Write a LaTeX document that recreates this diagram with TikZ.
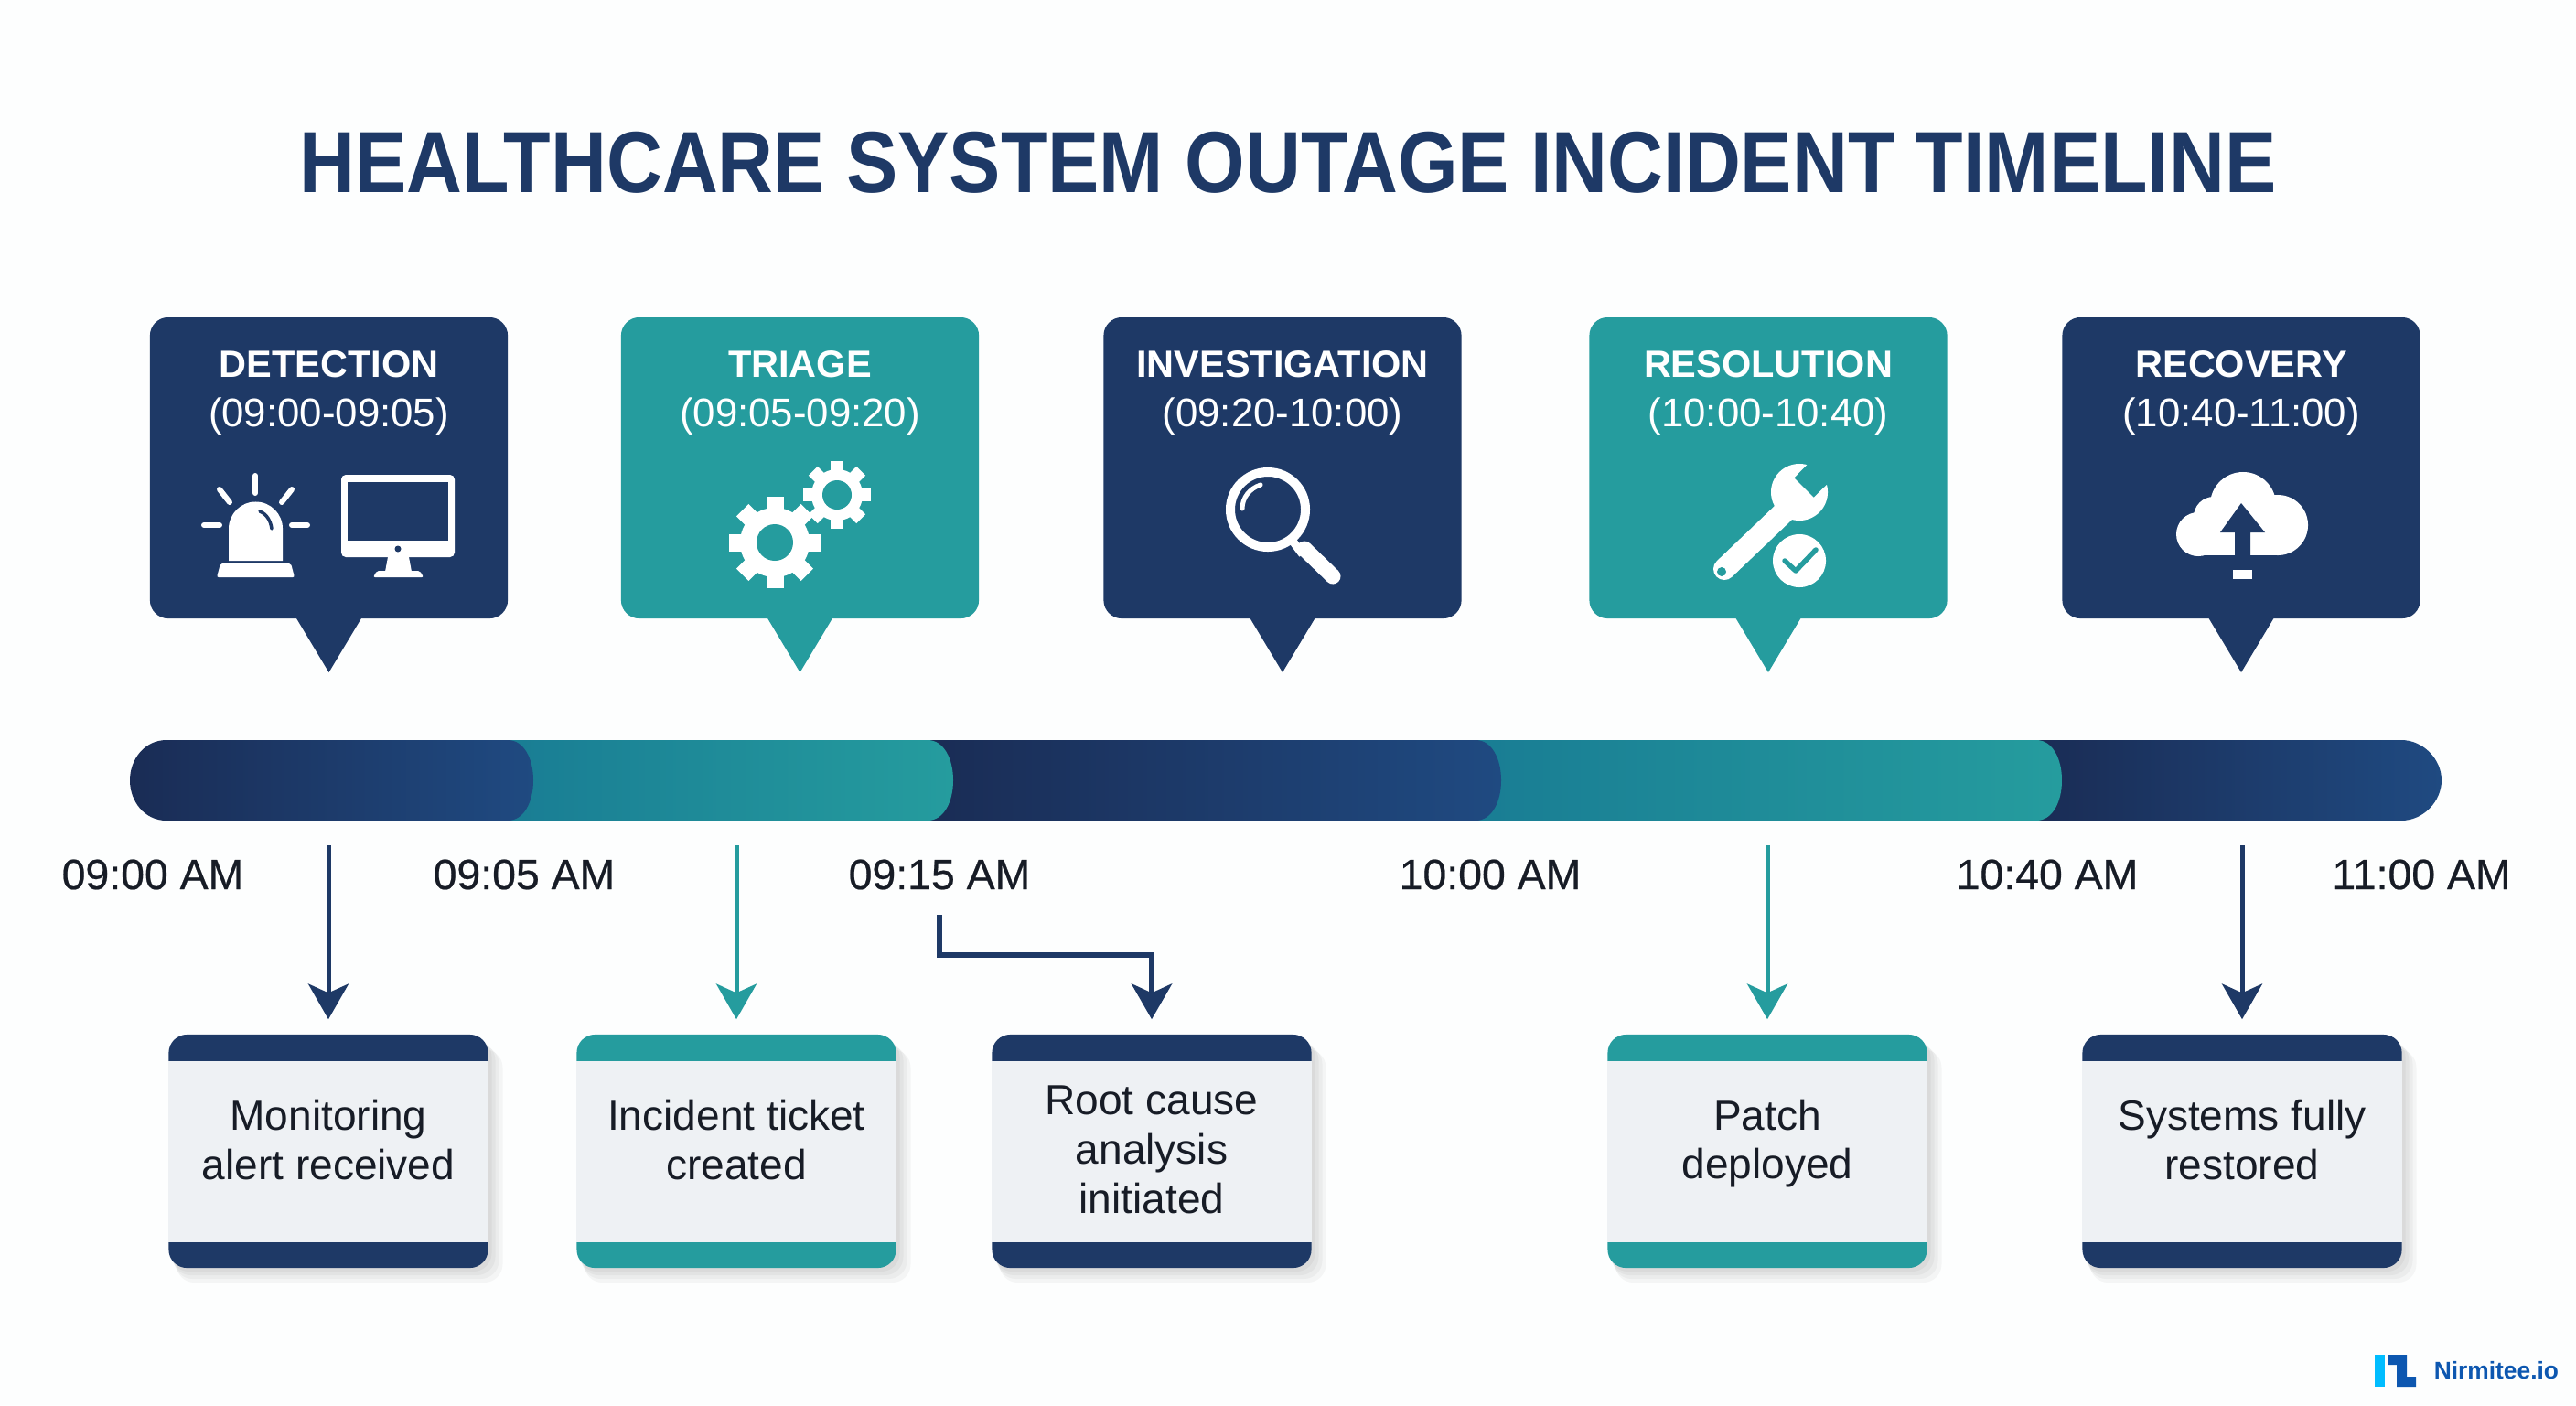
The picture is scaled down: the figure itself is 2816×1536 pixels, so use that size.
\documentclass[tikz,border=0pt]{standalone}
\usepackage{fontspec}
\usepackage{xcolor}
\usetikzlibrary{arrows.meta}
\setmainfont{Liberation Sans}
\newfontfamily\titlefont[FakeStretch=0.888]{Liberation Sans Bold}
\newfontfamily\labelfont[FakeBold=0.5]{Liberation Sans}
\definecolor{fundo} {rgb}{0.992,0.996,0.996}
\definecolor{navy} {rgb}{0.118,0.224,0.400}
\definecolor{navyesc} {rgb}{0.102,0.173,0.333}
\definecolor{navycla} {rgb}{0.122,0.290,0.506}
\definecolor{teal} {rgb}{0.145,0.612,0.620}
\definecolor{tealesc} {rgb}{0.098,0.490,0.580}
\definecolor{caixa} {rgb}{0.933,0.945,0.957}
\definecolor{texto} {rgb}{0.090,0.110,0.150}
\definecolor{logoazul} {rgb}{0.050,0.340,0.690}
\definecolor{logociano} {rgb}{0.000,0.740,1.000}
\tikzset{
  stagecard/.style={rounded corners=2mm,minimum width=3.91cm,minimum height=3.29cm,inner sep=0pt},
  stagetitle/.style={text=white,anchor=base,font=\fontsize{11.8}{13}\selectfont\bfseries},
  stagetime/.style={text=white,anchor=base,font=\fontsize{12.45}{14}\selectfont},
  timelabel/.style={text=texto,anchor=base,font=\fontsize{13.2}{15}\labelfont},
  infobox/.style={rounded corners=2mm,minimum width=3.49cm,minimum height=2.55cm,inner sep=0pt},
  infobody/.style={fill=caixa,minimum width=3.49cm,minimum height=1.98cm,inner sep=0pt},
  infotext/.style={text=texto,align=center,font=\fontsize{13.1}{15.3}\selectfont},
  linkarrow/.style={line width=0.05cm,-{Stealth[length=11pt,width=12.5pt,inset=2.8pt]}},
}
\newcommand{\stagecardat}[5]{
  \fill[#3] (#2-36,675) -- (#2,735) -- (#2+36,675) -- cycle;
  \node[stagecard,fill=#3] (#1) at (#2,511.5) {};
  \node[stagetitle] (#1title) at (#2,412) {#4};
  \node[stagetime] (#1time) at (#2,466) {#5};
}
\newcommand{\infoboxat}[5]{
  \foreach \s in {16,12,8,4}
    \fill[black,opacity=0.035,rounded corners=2mm] (#2-174.5+\s*0.5,1131+\s) rectangle (#2+174.5+\s,1386+\s);
  \node[infobox,fill=#3] (#1) at (#2,1258.5) {};
  \node[infobody] (#1body) at (#2,1259) {};
  \node[infotext] (#1text) at (#2,#4) {#5};
}
\newcommand{\geargrande}[4]{
  \begin{scope}[shift={(#1,#2)}]
    \fill[white] (0,0) circle[radius=#3*0.76];
    \foreach \a in {0,45,90,135}
      \fill[white,rotate=\a] (-#3*0.19,-#3) rectangle (#3*0.19,#3);
    \fill[teal] (0,0) circle[radius=#4];
  \end{scope}
}
\newcommand{\barseg}[4]{
  \shade[left color=#3,right color=#4] (#1,809) -- (#2-28,809) .. controls (#2-10,809) and (#2,830) .. (#2,853) .. controls (#2,876) and (#2-10,897) .. (#2-28,897) -- (#1,897) -- cycle;
}
\begin{document}
\begin{tikzpicture}[x=0.01cm,y=-0.01cm]
      \useasboundingbox (0,0) rectangle (2816,1536);
      \fill[fundo] (0,0) rectangle (2816,1536);

      \node[text=navy,anchor=base,font=\fontsize{27}{30}\titlefont] (title) at (1408,210) {HEALTHCARE SYSTEM OUTAGE INCIDENT TIMELINE};

      \stagecardat{detection}{359.5}{navy}{DETECTION}{(09:00-09:05)}
      \stagecardat{triage}{874.5}{teal}{TRIAGE}{(09:05-09:20)}
      \stagecardat{investigation}{1402}{navy}{INVESTIGATION}{(09:20-10:00)}
      \stagecardat{resolution}{1933}{teal}{RESOLUTION}{(10:00-10:40)}
      \stagecardat{recovery}{2450}{navy}{RECOVERY}{(10:40-11:00)}

      % alarm and monitor
      \fill[white,rounded corners=0.2mm] (237,631) -- (241,616) -- (318,616) -- (322,631) -- cycle;
      \fill[white] (250,613) -- (250,578) arc[start angle=180,end angle=0,radius=2.95mm] -- (309,613) -- cycle;
      \draw[navy,line width=0.035cm,line cap=round] (284,559) .. controls (292,562) and (296,570) .. (297,578);
      \draw[white,line width=0.06cm,line cap=round] (279,520) -- (279,539);
      \draw[white,line width=0.06cm,line cap=round] (240,535) -- (251,549);
      \draw[white,line width=0.06cm,line cap=round] (319,535) -- (308,549);
      \draw[white,line width=0.06cm,line cap=round] (223,574) -- (240,574);
      \draw[white,line width=0.06cm,line cap=round] (319,574) -- (336,574);
      \fill[white,rounded corners=0.5mm] (373,519) rectangle (497,609);
      \fill[navy] (380,527) rectangle (490,591);
      \fill[navy] (435,600) circle(0.35mm);
      \fill[white] (424,609) -- (447,609) -- (450,625) -- (421,625) -- cycle;
      \fill[white,rounded corners=0.2mm] (412,624) -- (459,624) -- (463,631) -- (408,631) -- cycle;

      % gears
      \geargrande{915}{541}{37}{16}
      \geargrande{847}{593}{50}{20}

      % magnifier
      \draw[white,line width=0.1cm] (1386,557) circle(4.1mm);
      \draw[white,line width=0.05cm,line cap=round] (1358,556) .. controls (1358,544) and (1366,534) .. (1378,530);
      \draw[white,line width=0.09cm] (1412,590) -- (1424,606);
      \draw[white,line width=0.17cm,line cap=round] (1426,600) -- (1457,630);

      % wrench with check mark
      \fill[white] (1967,538) circle(3.1mm);
      \fill[teal] (1961.4,522.4) -- (1996,487) -- (2018,509) -- (1982.6,543.6) -- cycle;
      \draw[white,line width=0.24cm,line cap=round] (1950,560) -- (1885,622);
      \fill[teal] (1882,625) circle(0.5mm);
      \fill[teal] (1967,613) circle(3.4mm);
      \fill[white] (1967,613) circle(2.9mm);
      \draw[teal,line width=0.055cm,line cap=round,line join=round] (1951,613) -- (1963,624) -- (1985,601);

      % cloud upload
      \fill[white] (2452,552) circle(3.6mm);
      \fill[white] (2403,584) circle(2.4mm);
      \fill[white] (2420,565) circle(2.2mm);
      \fill[white] (2490,574) circle(3.3mm);
      \fill[white] (2403,560) rectangle (2490,607);
      \fill[navy] (2450,550) -- (2476,582) -- (2460,582) -- (2460,610) -- (2443,610) -- (2443,582) -- (2427,582) -- cycle;
      \fill[white] (2441,623) rectangle (2462,633);

      % timeline bar
      \shade[left color=navyesc,right color=navycla] (2226,809) -- (2625,809) .. controls (2649,809) and (2669,830) .. (2669,853) .. controls (2669,876) and (2649,897) .. (2625,897) -- (2226,897) -- cycle;
      \barseg{1613}{2254}{tealesc}{teal}
      \barseg{1014}{1641}{navyesc}{navycla}
      \barseg{555}{1042}{tealesc}{teal}
      \shade[left color=navyesc,right color=navycla] (182,809) -- (555,809) .. controls (573,809) and (583,830) .. (583,853) .. controls (583,876) and (573,897) .. (555,897) -- (182,897) .. controls (158,897) and (142,876) .. (142,853) .. controls (142,830) and (158,809) .. (182,809) -- cycle;

      \node[timelabel] (t0900) at (167,972) {09:00 AM};
      \node[timelabel] (t0905) at (573,972) {09:05 AM};
      \node[timelabel] (t0915) at (1027,972) {09:15 AM};
      \node[timelabel] (t1000) at (1629,972) {10:00 AM};
      \node[timelabel] (t1040) at (2238,972) {10:40 AM};
      \node[timelabel] (t1100) at (2647,972) {11:00 AM};

      \infoboxat{alert}{359}{navy}{1246}{Monitoring\\alert received}
      \infoboxat{ticket}{805}{teal}{1246}{Incident ticket\\created}
      \infoboxat{rootcause}{1259}{navy}{1257}{Root cause\\analysis\\initiated}
      \infoboxat{patch}{1932}{teal}{1250}{Patch\\deployed}
      \infoboxat{restored}{2451}{navy}{1246}{Systems fully\\restored}

      \coordinate (alertfrom) at (359,924);
      \coordinate (ticketfrom) at (805,924);
      \coordinate (rootfrom) at (1027,1000);
      \coordinate (patchfrom) at (1932,924);
      \coordinate (restoredfrom) at (2451,924);
      \draw[linkarrow,navy,shorten >=0.16cm] (alertfrom) -- (alert.north);
      \draw[linkarrow,teal,shorten >=0.16cm] (ticketfrom) -- (ticket.north);
      \draw[linkarrow,navy,line width=0.065cm,shorten >=0.16cm] (rootfrom) -- (1027,1044) -- (1259,1044) -- (rootcause.north);
      \draw[linkarrow,teal,shorten >=0.16cm] (patchfrom) -- (patch.north);
      \draw[linkarrow,navy,shorten >=0.16cm] (restoredfrom) -- (restored.north);

      % logo
      \fill[logociano] (2596,1481) rectangle (2607,1516);
      \fill[logoazul] (2611,1481) -- (2631,1481) -- (2631,1505) -- (2641,1505) -- (2641,1516) -- (2620,1516) -- (2620,1492) -- (2611,1492) -- cycle;
      \node[text=logoazul,anchor=base west,inner sep=0pt,font=\fontsize{7.5}{9}\selectfont\bfseries] (logotext) at (2660,1507) {Nirmitee.io};
\end{tikzpicture}
\end{document}
